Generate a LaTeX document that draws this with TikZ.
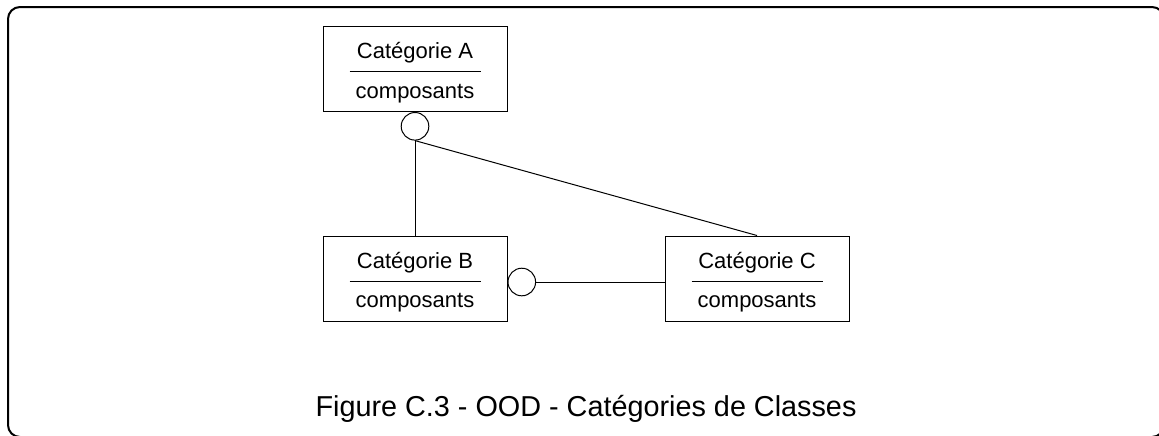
\documentclass[tikz,border=0pt]{standalone}
\usepackage{fontspec}
\setmainfont{Liberation Sans}
\begin{document}
\begin{tikzpicture}[x=0.5pt,y=-0.5pt,
  catbox/.style={draw,line width=0.5pt,minimum width=92pt,minimum height=42.5pt,inner sep=0pt},
  hub/.style={draw,circle,line width=0.5pt,minimum size=13.8pt,inner sep=0pt,fill=white},
  link/.style={line width=0.5pt},
  lbl/.style={font=\fontsize{11}{13}\selectfont,anchor=base,inner sep=0pt},
  captiontext/.style={font=\fontsize{14.4}{17}\selectfont,anchor=base,inner sep=0pt},
  frame/.style={line width=1pt,rounded corners=6pt}]
\useasboundingbox (0,0) rectangle (1159,435);
\begin{scope}
  \clip (0,0) rectangle (1159,435);
  \draw[frame] (8,7) rectangle (1164,437);
\end{scope}
% boxes
\node[catbox] (A) at (415,69) {};
\node[catbox] (B) at (415,278.5) {};
\node[catbox] (C) at (757,278.5) {};
% box contents
\foreach \b/\t in {A/Catégorie A,B/Catégorie B,C/Catégorie C}{
  \draw[link] ([xshift=-32.75pt,yshift=-22.75pt]\b.north) -- ([xshift=32.75pt,yshift=-22.75pt]\b.north);
  \node[lbl] (\b t) at ([yshift=-16.25pt]\b.north) {\t};
  \node[lbl] (\b c) at ([yshift=-36pt]\b.north) {composants};
}
% hubs
\node[hub,anchor=north] (cA) at (A.south) {};
\node[hub,anchor=west] (cB) at ([yshift=-1.75pt]B.east) {};
% connectors
\draw[link] (cA.south) -- (B.north);
\draw[link] (cA.south) -- (C.north);
\draw[link] (cB.east) -- (cB.east -| C.west);
% caption
\node[captiontext] (fig) at (586,416) {Figure C.3 - OOD - Catégories de Classes};
\end{tikzpicture}
\end{document}
